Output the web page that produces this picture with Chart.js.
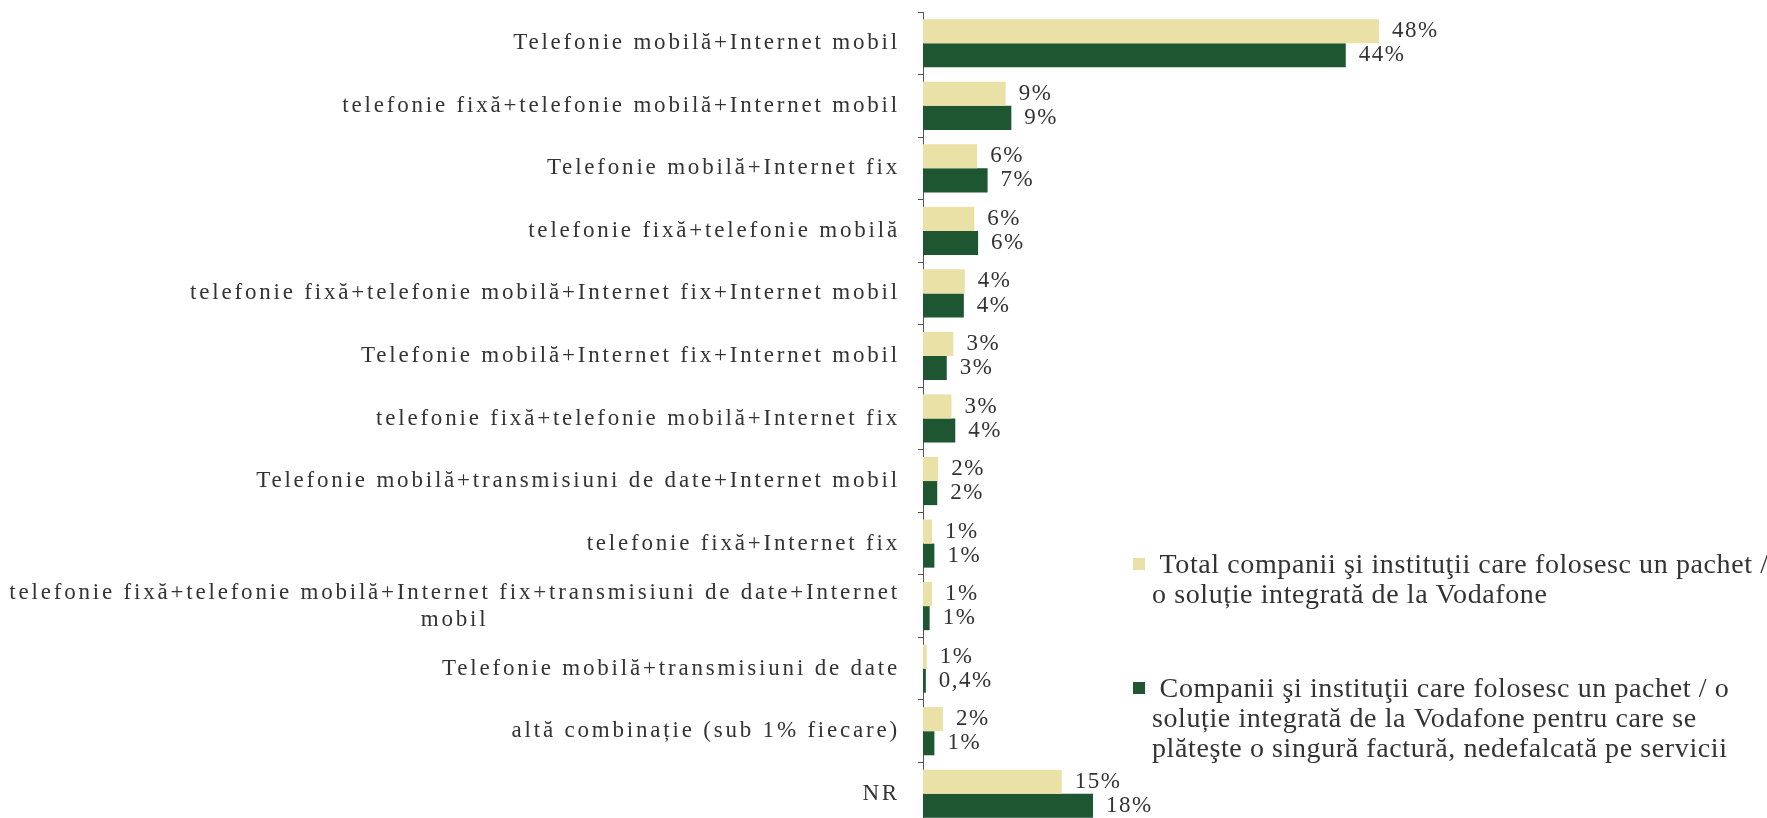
<!DOCTYPE html>
<html>
<head>
<meta charset="utf-8">
<script src="https://cdn.jsdelivr.net/npm/chart.js"></script>
<style>
  html, body { margin: 0; padding: 0; background: #fff; overflow: hidden; }
  #wrap { position: relative; width: 1767px; height: 825px; }
</style>
</head>
<body>
<div id="wrap"><canvas id="combiChart"></canvas></div>
<script>
// categories (top to bottom), a wrapped label is given as an array of lines
const categories = [
  'Telefonie mobilă+Internet mobil',
  'telefonie fixă+telefonie mobilă+Internet mobil',
  'Telefonie mobilă+Internet fix',
  'telefonie fixă+telefonie mobilă',
  'telefonie fixă+telefonie mobilă+Internet fix+Internet mobil',
  'Telefonie mobilă+Internet fix+Internet mobil',
  'telefonie fixă+telefonie mobilă+Internet fix',
  'Telefonie mobilă+transmisiuni de date+Internet mobil',
  'telefonie fixă+Internet fix',
  ['telefonie fixă+telefonie mobilă+Internet fix+transmisiuni de date+Internet', 'mobil'],
  'Telefonie mobilă+transmisiuni de date',
  'altă combinație (sub 1% fiecare)',
  'NR'
];

// bar lengths, in %
const totalValues  = [48, 8.7, 5.7, 5.4, 4.4, 3.2, 3.0, 1.6, 0.95, 0.95, 0.4, 2.1, 14.6];
const singleValues = [44.5, 9.3, 6.8, 5.8, 4.3, 2.5, 3.4, 1.5, 1.2, 0.7, 0.3, 1.2, 17.9];

// value labels as printed in the chart
const totalLabels  = ['48%', '9%', '6%', '6%', '4%', '3%', '3%', '2%', '1%', '1%', '1%', '2%', '15%'];
const singleLabels = ['44%', '9%', '7%', '6%', '4%', '3%', '4%', '2%', '1%', '1%', '0,4%', '1%', '18%'];

const seriesNames = [
  [' Total companii şi instituţii care folosesc un pachet /', 'o soluție integrată de la Vodafone'],
  [' Companii şi instituţii care folosesc un pachet / o', 'soluție integrată de la Vodafone pentru care se', 'plăteşte o singură factură, nedefalcată pe servicii']
];

const LIGHT = '#e9e1a5';
const DARK = '#1e5632';
const TEXT = '#333333';

const labelsPlugin = {
  id: 'labelsPlugin',
  afterDraw(chart) {
    const ctx = chart.ctx;
    const yScale = chart.scales.y;
    ctx.save();
    ctx.fillStyle = TEXT;
    ctx.textBaseline = 'middle';

    // category labels
    ctx.font = '23px "Liberation Serif"';
    ctx.letterSpacing = '2.8px';
    const right = yScale.right - 23;
    const lineH = 27;
    categories.forEach((cat, i) => {
      const lines = Array.isArray(cat) ? cat : [cat];
      const y0 = yScale.getPixelForValue(i) - (lines.length - 1) * lineH / 2;
      const widths = lines.map(l => ctx.measureText(l).width);
      const maxW = Math.max(...widths);
      lines.forEach((l, k) => {
        ctx.textAlign = 'left';
        const x = right - maxW + (maxW - widths[k]) / 2;
        ctx.fillText(l, x, y0 + k * lineH);
      });
    });

    // value labels
    ctx.font = '23px "Liberation Serif"';
    ctx.letterSpacing = '1.5px';
    ctx.textAlign = 'left';
    [totalLabels, singleLabels].forEach((labs, d) => {
      const meta = chart.getDatasetMeta(d);
      meta.data.forEach((bar, i) => {
        ctx.fillText(labs[i], bar.x + 13, bar.y);
      });
    });

    // legend
    ctx.font = '28px "Liberation Serif"';
    ctx.letterSpacing = '0.6px';
    ctx.textBaseline = 'alphabetic';
    const legendTop = [573, 697];
    seriesNames.forEach((lines, d) => {
      const base = legendTop[d];
      ctx.fillStyle = chart.data.datasets[d].backgroundColor;
      ctx.fillRect(1133, base - 15, 12, 12);
      ctx.fillStyle = TEXT;
      lines.forEach((l, k) => ctx.fillText(l, 1152, base + k * 30));
    });
    ctx.restore();
  }
};

new Chart(document.getElementById('combiChart'), {
  type: 'bar',
  data: {
    labels: categories.map(c => Array.isArray(c) ? c.join(' ') : c),
    datasets: [
      { label: seriesNames[0].join(' '), data: totalValues, backgroundColor: LIGHT,
        categoryPercentage: 0.77, barPercentage: 1.0 },
      { label: seriesNames[1].join(' '), data: singleValues, backgroundColor: DARK,
        categoryPercentage: 0.77, barPercentage: 1.0 }
    ]
  },
  options: {
    indexAxis: 'y',
    responsive: true,
    maintainAspectRatio: false,
    animation: false,
    layout: { padding: { top: 12, right: 369, bottom: 0, left: 0 } },
    plugins: { legend: { display: false }, tooltip: { enabled: false } },
    scales: {
      x: { display: false, min: 0, max: 50 },
      y: {
        afterFit(scale) { scale.width = 923; },
        ticks: { display: false },
        grid: { offset: true, drawOnChartArea: false, tickLength: 5, color: '#555' },
        border: { display: true, color: '#555' }
      }
    }
  },
  plugins: [labelsPlugin]
});
</script>
</body>
</html>
